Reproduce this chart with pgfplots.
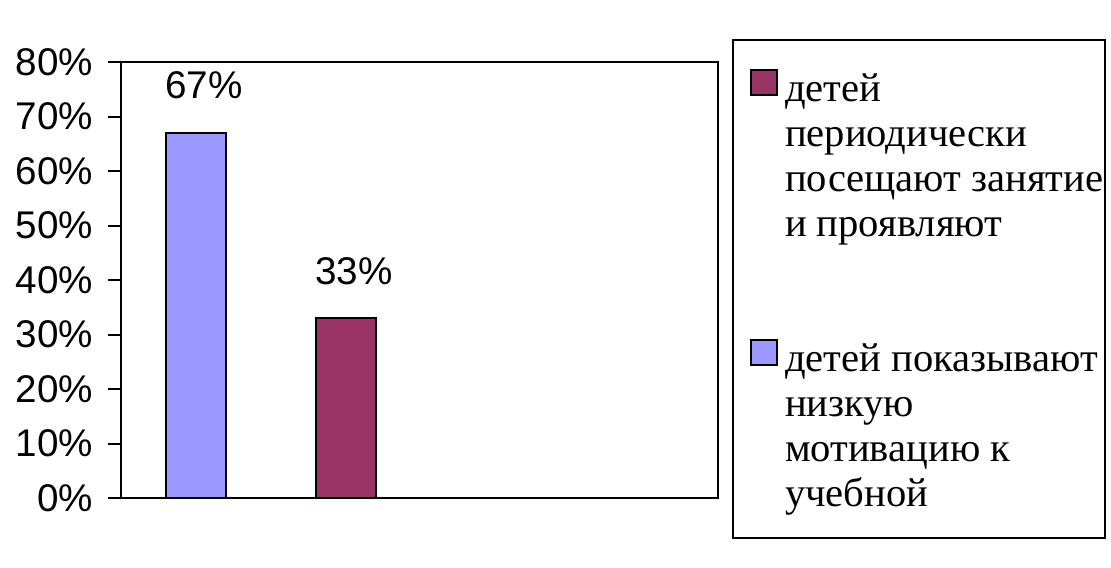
\documentclass[border=0pt]{standalone}
\usepackage{fontspec}
\setmainfont{Liberation Serif}
\newfontfamily\arial{Liberation Sans}
\usepackage{pgfplots}
\pgfplotsset{compat=1.18}

\definecolor{lilac}{HTML}{9999FF}
\definecolor{plum}{HTML}{993366}

\begin{document}
\begin{tikzpicture}
\path[use as bounding box] (0,0) rectangle (555.5pt,283.5pt);
\begin{axis}[
  at={(60.5pt,34.5pt)}, anchor=south west,
  scale only axis,
  width=298.5pt, height=218pt,
  xmin=0, xmax=597,
  ymin=0, ymax=80,
  xtick=\empty,
  ytick={0,10,...,80},
  yticklabels={0\%,10\%,20\%,30\%,40\%,50\%,60\%,70\%,80\%},
  ytick pos=left,
  tick align=outside,
  major tick length=6.5pt,
  tick style={black, line width=1pt},
  axis line style={black, line width=1pt},
  yticklabel style={font=\fontsize{19.3}{22}\selectfont\arial, xshift=-4pt},
  ybar, bar width=30pt, bar shift=0pt,
  nodes near coords={\pgfmathprintnumber[assume math mode=true]{\pgfplotspointmeta}\%},
  nodes near coords style={font=\fontsize{19.3}{22}\selectfont\arial, anchor=base, yshift=17pt, xshift=4pt},
  legend style={draw=none, fill=none, at={(1.0536,0.9845)}, anchor=north west,
    inner sep=0pt, outer sep=0pt, row sep=47.5pt,
    cells={anchor=north west, align=left, font=\fontsize{20.3}{22.5}\selectfont, inner sep=0pt}},
  legend image code/.code={\draw[#1, line width=1pt] (0pt,-12.5pt) rectangle (13pt,0pt);},
  reverse legend,
]
\addplot[fill=lilac, draw=black, line width=1pt] coordinates {(75,67)};
\addlegendentry{\hspace{1.5pt}детей показывают\\\hspace{1.5pt}низкую\\\hspace{1.5pt}мотивацию к\\\hspace{1.5pt}учебной}
\addplot[fill=plum, draw=black, line width=1pt] coordinates {(225,33)};
\addlegendentry{\hspace{1.5pt}детей\\\hspace{1.5pt}периодически\\\hspace{1.5pt}посещают занятие\\\hspace{1.5pt}и проявляют}
\end{axis}
\draw[black, line width=1pt] (366.5pt,14.5pt) rectangle (552.5pt,263.5pt);
\end{tikzpicture}
\end{document}
